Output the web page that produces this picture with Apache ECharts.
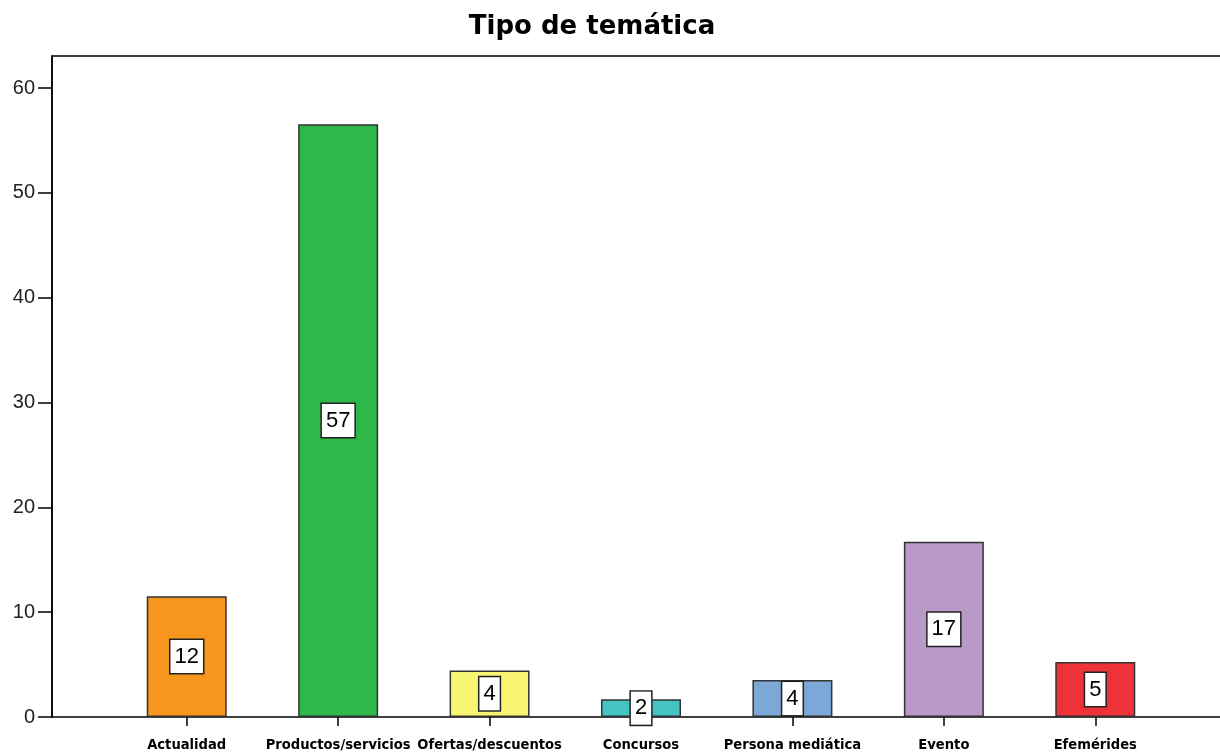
<!DOCTYPE html>
<html>
<head>
<meta charset="utf-8">
<script src="https://cdn.jsdelivr.net/npm/echarts@6/dist/echarts.min.js"></script>
<style>
  html, body { margin: 0; padding: 0; background: #fff; }
  #chart { width: 1220px; height: 755px; }
</style>
</head>
<body>
<div id="chart"></div>
<script>
// datos (porcentaje)
var categorias = ['Actualidad', 'Productos/servicios', 'Ofertas/descuentos', 'Concursos', 'Persona mediática', 'Evento', 'Efemérides'];
var porcentajes = [11.53, 56.56, 4.43, 1.69, 3.52, 16.72, 5.25];
var colores = ['#F7961F', '#2EB84A', '#F8F573', '#45C2C4', '#7BA8D6', '#B899C8', '#EE3239'];
var ticksY = [0, 10, 20, 30, 40, 50, 60];

var chart = echarts.init(document.getElementById('chart'));

var yMax = 63.06;

chart.setOption({
  animation: false,
  backgroundColor: '#fff',
  title: {
    text: 'Tipo de temática',
    left: 587,
    top: 9,
    textAlign: 'center',
    textStyle: {
      fontFamily: 'DejaVu Sans, sans-serif',
      fontWeight: 'bold',
      fontSize: 26,
      color: '#000'
    }
  },
  grid: [
    // zona de las barras
    {left: 111, right: 49, top: 56, bottom: 38, outerBoundsMode: 'none'},
    // marco completo (el lado derecho queda fuera de la imagen)
    {left: 52, width: 1200, top: 56, bottom: 38, outerBoundsMode: 'none', show: true, borderColor: '#000', borderWidth: 1.5, backgroundColor: 'transparent'}
  ],
  xAxis: [
    {
      type: 'category',
      gridIndex: 0,
      data: categorias,
      axisLine: {show: false},
      axisTick: {show: true, alignWithLabel: true, length: 9, lineStyle: {color: '#000', width: 1.5}},
      axisLabel: {
        interval: 0,
        hideOverlap: false,
        margin: 21,
        color: '#000',
        fontFamily: 'Liberation Sans Narrow, DejaVu Sans Condensed, sans-serif',
        fontWeight: 'bold',
        fontSize: 14.6
      }
    },
    {
      type: 'value',
      gridIndex: 1,
      show: false
    }
  ],
  yAxis: [
    {
      type: 'value',
      gridIndex: 0,
      min: 0,
      max: yMax,
      show: false
    },
    {
      type: 'value',
      gridIndex: 1,
      min: 0,
      max: yMax,
      splitLine: {show: false},
      axisLine: {show: true, lineStyle: {color: '#000', width: 1.5}},
      axisTick: {show: true, length: 14, customValues: ticksY, lineStyle: {color: '#000', width: 1.5}},
      axisLabel: {
        customValues: ticksY,
        margin: 17,
        color: '#222',
        fontFamily: 'Liberation Sans, Arial, sans-serif',
        fontSize: 20
      }
    }
  ],
  series: [
    {
      type: 'bar',
      xAxisIndex: 0,
      yAxisIndex: 0,
      barWidth: 80,
      data: porcentajes.map(function (v, i) {
        return {value: v, itemStyle: {color: colores[i]}};
      }),
      itemStyle: {borderColor: '#333', borderWidth: 1.5},
      label: {
        show: true,
        position: 'inside',
        formatter: function (p) { return Math.round(p.value); },
        color: '#000',
        fontFamily: 'Liberation Sans, Arial, sans-serif',
        fontSize: 22,
        backgroundColor: '#fff',
        borderColor: '#222',
        borderWidth: 1.5,
        padding: [6, 4, 5, 4]
      }
    }
  ]
});
</script>
</body>
</html>
